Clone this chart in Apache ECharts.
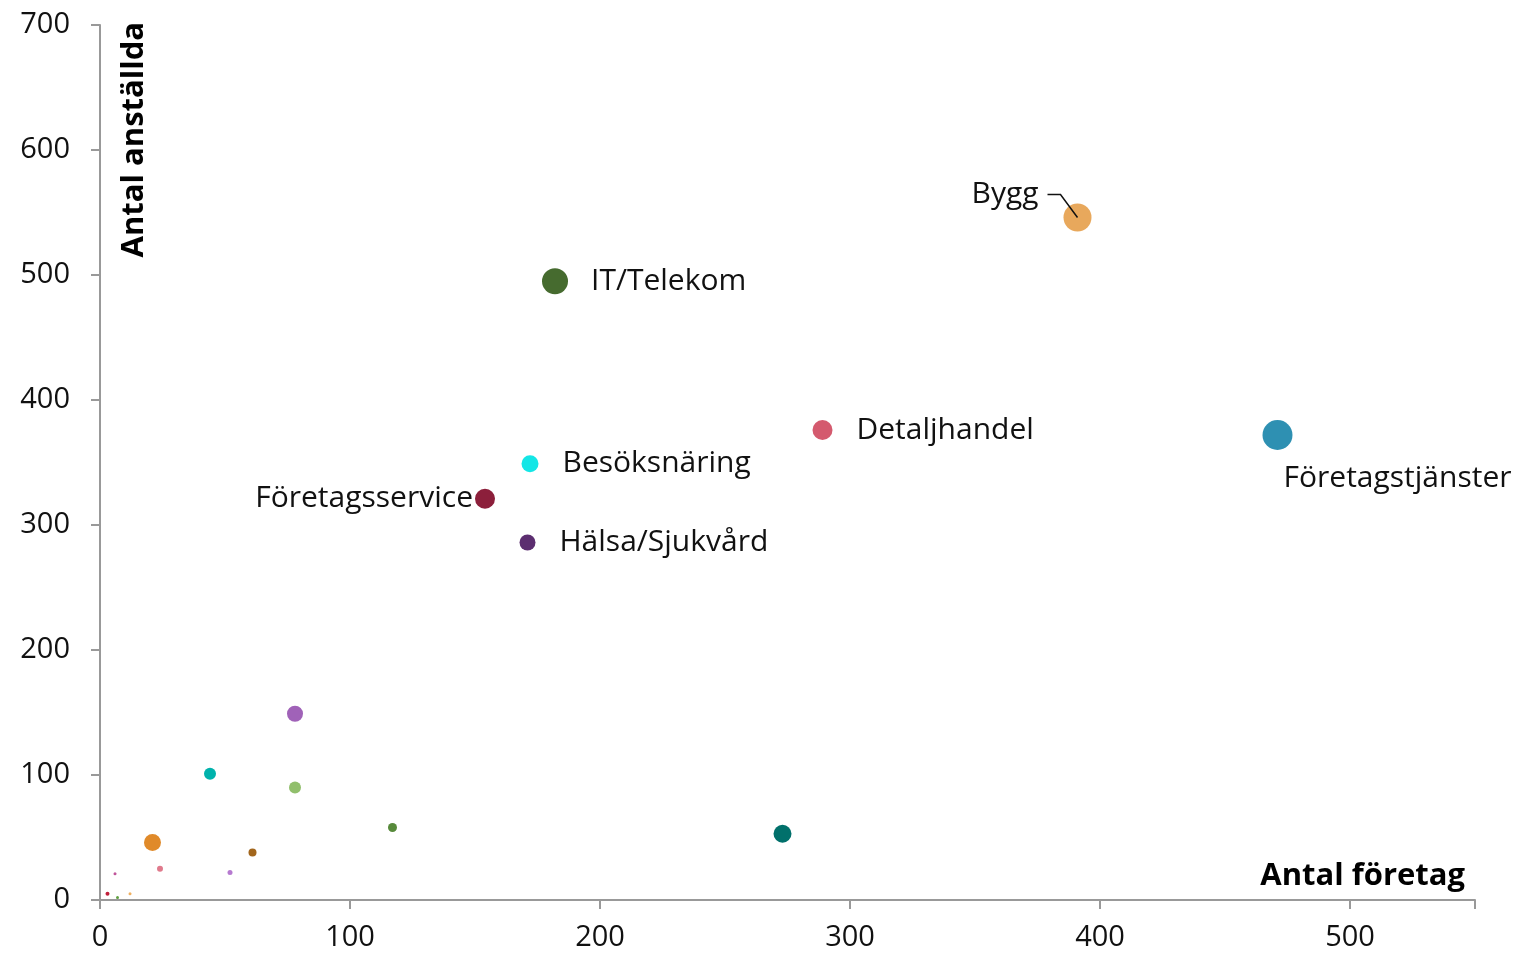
<!DOCTYPE html>
<html>
<head>
<meta charset="utf-8">
<script src="https://cdn.jsdelivr.net/npm/echarts@6/dist/echarts.min.js"></script>
<style>
  html, body { margin: 0; padding: 0; background: #fff; }
  #chart { width: 1527px; height: 960px; }
</style>
</head>
<body>
<div id="chart"></div>
<script>
// branscher: antal företag (x), antal anställda (y), bubbelstorlek
const names = ['Bygg', 'IT/Telekom', 'Detaljhandel', 'Företagstjänster', 'Besöksnäring',
  'Företagsservice', 'Hälsa/Sjukvård', '', '', '', '', '', '', '', '', '', '', '', '', ''];
const companies = [391, 182, 289, 471, 172, 154, 171, 273, 78, 44, 78, 117, 21, 61, 24, 52, 6, 3, 7, 12];
const employees = [546, 495, 376, 372, 349, 321, 286, 53, 149, 101, 90, 58, 46, 38, 25, 22, 21, 5, 2, 5];
const bubble = [28, 26, 20, 30, 17, 20, 16, 18, 16, 12, 12, 9, 17, 8, 6, 5, 3, 4, 3, 3];

const colors = ['#E8A85C', '#466B2F', '#D45A6E', '#2E90B2', '#14E6E6', '#8C1F3B', '#5C2E70',
  '#01706B', '#A062B8', '#00B2AC', '#91BF6C', '#578A3B', '#E08A2A', '#A2661C', '#E07A8C',
  '#B67AD0', '#C0559A', '#C0203A', '#60A040', '#F0B060'];

const font = '"Open Sans", Lato, sans-serif';

const labelCfg = {
  'Bygg': { position: 'left', distance: 0, offset: [-25, -23] },
  'IT/Telekom': { position: 'right', distance: 23 },
  'Detaljhandel': { position: 'right', distance: 24 },
  'Företagstjänster': { position: 'bottom', align: 'left', offset: [6, 8] },
  'Besöksnäring': { position: 'right', distance: 24 },
  'Företagsservice': { position: 'left', distance: 2 },
  'Hälsa/Sjukvård': { position: 'right', distance: 24 }
};

const data = companies.map((x, i) => {
  const item = {
    value: [x, employees[i]],
    name: names[i],
    symbolSize: bubble[i],
    itemStyle: { color: colors[i] }
  };
  if (names[i]) {
    item.label = Object.assign({ show: true, formatter: names[i] }, labelCfg[names[i]]);
  }
  return item;
});

const chart = echarts.init(document.getElementById('chart'));
chart.setOption({
  animation: false,
  textStyle: { fontFamily: font },
  grid: { left: 100, right: 52, top: 25, bottom: 60 },
  xAxis: {
    type: 'value', min: 0, max: 550, interval: 100,
    axisLine: { lineStyle: { color: '#999', width: 2 } },
    axisTick: { show: true, length: 9, lineStyle: { color: '#999', width: 2 } },
    axisLabel: { fontSize: 29, color: '#111', margin: 23, fontFamily: font,
      formatter: v => (v % 100 === 0 ? v : '') },
    splitLine: { show: false }
  },
  yAxis: {
    type: 'value', min: 0, max: 700, interval: 100,
    axisLine: { show: true, lineStyle: { color: '#999', width: 2 } },
    axisTick: { show: true, length: 9, lineStyle: { color: '#999', width: 2 } },
    axisLabel: { fontSize: 29, color: '#111', margin: 30, fontFamily: font },
    splitLine: { show: false }
  },
  series: [{
    type: 'scatter',
    data: data,
    label: { fontSize: 30, color: '#111', fontFamily: font },
    itemStyle: { opacity: 1 }
  }]
});

// axelnamn + ledarlinje från Bygg-etiketten till punkten
const p = chart.convertToPixel({ gridIndex: 0 }, [companies[0], employees[0]]);
chart.setOption({
  graphic: [
    {
      id: 'yname', type: 'text', x: 134, y: 22, rotation: Math.PI / 2,
      style: { text: 'Antal anställda', font: 'bold 31px ' + font, fill: '#000',
        align: 'right', verticalAlign: 'middle' }
    },
    {
      id: 'xname', type: 'text', x: 1465, y: 876,
      style: { text: 'Antal företag', font: 'bold 31px ' + font, fill: '#000',
        align: 'right', verticalAlign: 'middle' }
    },
    {
      id: 'leader', type: 'polyline', z: 10,
      shape: { points: [[p[0] - 30, p[1] - 23], [p[0] - 17, p[1] - 23], [p[0], p[1]]] },
      style: { stroke: '#111', lineWidth: 1.5, fill: null }
    }
  ]
});
</script>
</body>
</html>
